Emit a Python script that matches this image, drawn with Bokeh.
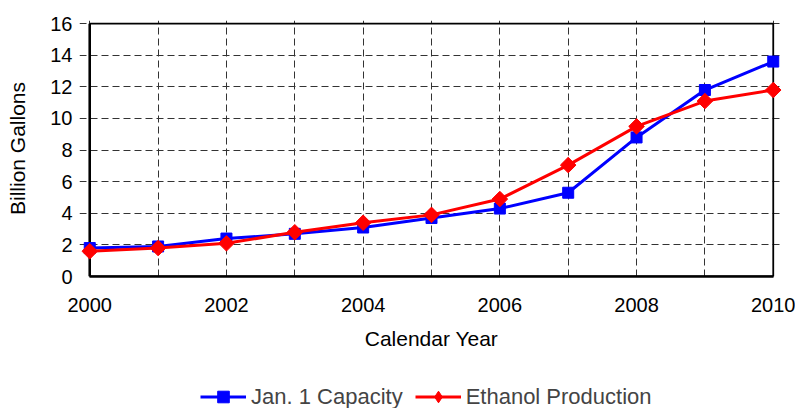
import math
from bokeh.plotting import figure
from bokeh.layouts import column
from bokeh.models import FixedTicker, Range1d, Legend, LegendItem
from bokeh.embed import file_html
from bokeh.resources import INLINE

years = [2000, 2001, 2002, 2003, 2004, 2005, 2006, 2007, 2008, 2009, 2010]
capacity = [1.8, 1.9, 2.4, 2.7, 3.1, 3.7, 4.3, 5.3, 8.8, 11.8, 13.6]
production = [1.6, 1.8, 2.1, 2.8, 3.4, 3.9, 4.9, 7.05, 9.5, 11.1, 11.8]
x_ticks = [2000, 2002, 2004, 2006, 2008, 2010]
y_ticks = [0, 2, 4, 6, 8, 10, 12, 14, 16]
series_names = ["Jan. 1 Capacity", "Ethanol Production"]

FONT = "Liberation Sans"
XPAD = 0.15
YPAD = 0.2
BLUE = "#0000ff"
RED = "#ff0000"

p = figure(width=795, height=358, output_backend="svg", toolbar_location=None,
           x_range=Range1d(x_ticks[0] - XPAD, x_ticks[-1] + XPAD),
           y_range=Range1d(y_ticks[0], y_ticks[-1] + YPAD),
           min_border_left=79, min_border_top=20, min_border_right=12,
           min_border_bottom=82, frame_width=704, frame_height=256)

p.outline_line_color = None

for ax in (p.xaxis[0], p.yaxis[0]):
    ax.major_tick_out = 0
    ax.major_tick_in = 0
    ax.minor_tick_out = 0
    ax.minor_tick_in = 0
    ax.major_label_text_font = FONT
    ax.major_label_text_font_size = "20px"
    ax.major_label_text_color = "black"
    ax.axis_label_text_font = FONT
    ax.axis_label_text_font_size = "21px"
    ax.axis_label_text_font_style = "normal"
    ax.axis_label_text_color = "black"

p.xaxis.axis_line_width = 2.5
p.xaxis.axis_line_color = "black"
p.xaxis.bounds = (x_ticks[0], x_ticks[-1])
p.yaxis.axis_line_color = None

p.xaxis.ticker = FixedTicker(ticks=x_ticks)
p.yaxis.ticker = FixedTicker(ticks=y_ticks)
p.xgrid.ticker = FixedTicker(ticks=years)
p.ygrid.ticker = FixedTicker(ticks=y_ticks)
p.ygrid.bounds = (x_ticks[0], x_ticks[-1])
p.xaxis.major_label_standoff = 21
p.yaxis.major_label_standoff = 7
p.xaxis.axis_label = "Calendar Year"
p.yaxis.axis_label = "Billion Gallons"
p.xaxis.axis_label_standoff = 12
p.yaxis.axis_label_standoff = 18

for g in (p.xgrid[0], p.ygrid[0]):
    g.grid_line_color = "#333333"
    g.grid_line_width = 1
    g.grid_line_dash = "7 4"

# plot-area box
p.quad(left=[x_ticks[0]], right=[x_ticks[-1]], bottom=[y_ticks[0]], top=[y_ticks[-1]],
       fill_color=None, line_color="black", line_width=1.8)
p.line([x_ticks[0], x_ticks[0]], [y_ticks[0], y_ticks[-1]], line_color="black", line_width=2.5)

p.line(years, capacity, line_color=BLUE, line_width=3)
p.scatter(years, capacity, marker="square", size=11, fill_color=BLUE, line_color=BLUE)
p.line(years, production, line_color=RED, line_width=3)
p.scatter(years, production, marker="square", angle=math.pi / 4, size=11,
          fill_color=RED, line_color=RED)

# legend strip below the chart (its renderers lie outside its ranges)
q = figure(width=795, height=50, output_backend="svg", toolbar_location=None,
           x_range=Range1d(0, 1), y_range=Range1d(0, 1),
           x_axis_location=None, y_axis_location=None,
           min_border=0, min_border_left=0, min_border_right=0,
           min_border_top=0, min_border_bottom=0)
q.outline_line_color = None
q.xgrid.visible = False
q.ygrid.visible = False
ql1 = q.line(years, capacity, line_color=BLUE, line_width=3)
qm1 = q.scatter(years, capacity, marker="square", fill_color=BLUE, line_color=BLUE)
ql2 = q.line(years, production, line_color=RED, line_width=3)
qm2 = q.scatter(years, production, marker="diamond", fill_color=RED, line_color=RED)

legend = Legend(items=[LegendItem(label=series_names[0], renderers=[ql1, qm1]),
                       LegendItem(label=series_names[1], renderers=[ql2, qm2])],
                orientation="horizontal", location=(121, -3),
                label_text_font=FONT, label_text_font_size="22px",
                glyph_width=46, glyph_height=29, label_height=29, spacing=12, label_standoff=5,
                border_line_color=None, background_fill_alpha=0, margin=0, padding=0)
q.add_layout(legend, "center")

open("out.html", "w").write(file_html(column(p, q), INLINE))
